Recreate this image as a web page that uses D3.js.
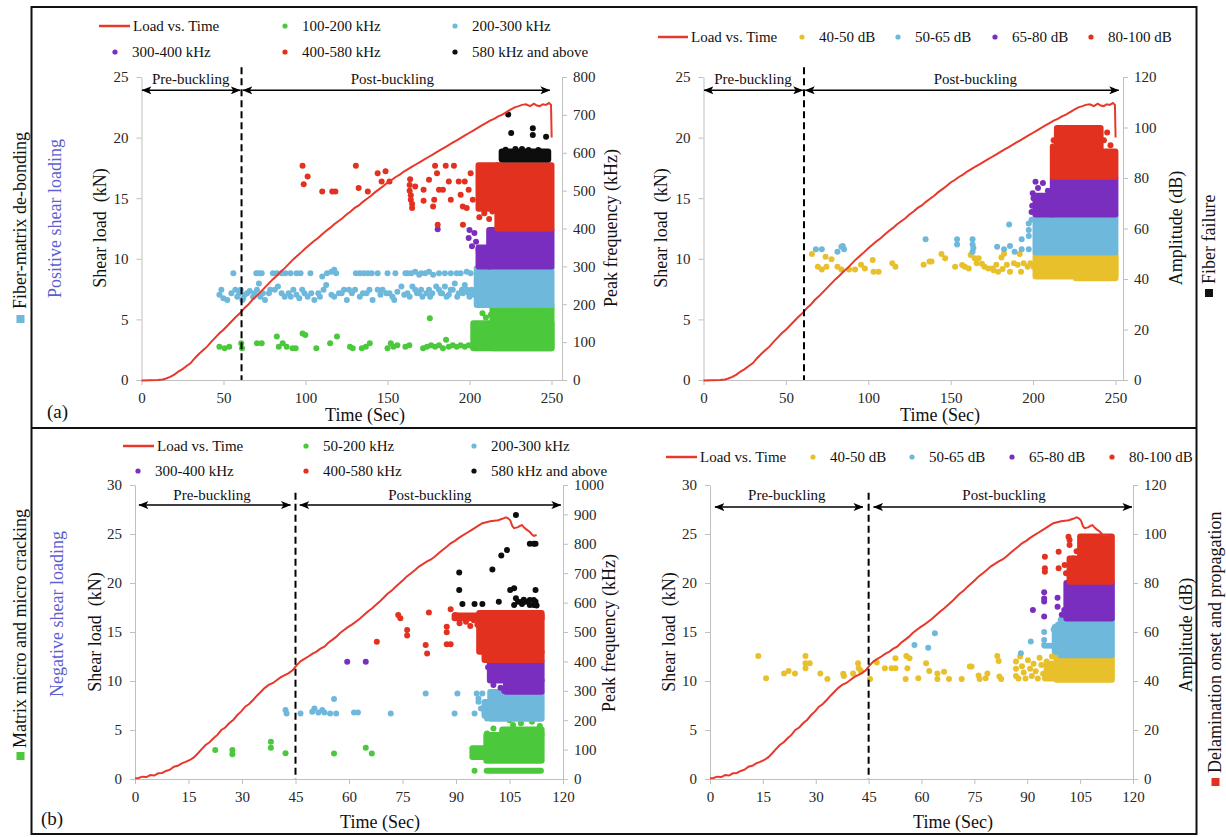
<!DOCTYPE html>
<meta charset="utf-8">
<style>
body { margin: 0; background: #fff; }
svg text { font-family: "Liberation Serif", "DejaVu Serif", "Times New Roman", Times, serif; }
</style>
<body>
<script src="https://d3js.org/d3.v7.min.js"></script>
<script>

// ---------- data ----------
// load curves (time s, shear load kN)
var loadPositive = [[0,-0.05],[5,-0.03],[10,0.0],[13,0.05],[15,0.12],[17.5,0.25],[20,0.45],[22.5,0.7],[25,0.9],[27.5,1.15],[30,1.4],[32.5,1.8],[35,2.15],[37.5,2.45],[40,2.75],[42.5,3.15],[45,3.5],[47.5,3.85],[50,4.15],[52.5,4.5],[55,4.85],[57.5,5.2],[60,5.5],[62.5,5.9],[65,6.2],[67.5,6.6],[70,6.9],[72.5,7.25],[75,7.6],[77.5,7.95],[80,8.3],[82.5,8.6],[85,8.95],[87.5,9.25],[90,9.6],[92.5,9.95],[95,10.25],[97.5,10.55],[100,10.87],[102.5,11.15],[105,11.45],[107.5,11.7],[110,12.0],[112.5,12.3],[115,12.55],[117.5,12.85],[120,13.1],[122.5,13.35],[125,13.65],[127.5,13.9],[130,14.2],[132.5,14.4],[135,14.7],[137.5,14.95],[140,15.2],[142.5,15.5],[145,15.75],[147.5,16.0],[150,16.3],[152.5,16.5],[155,16.75],[157.5,16.95],[160,17.2],[162.5,17.4],[165,17.6],[167.5,17.8],[170,18.0],[172.5,18.2],[175,18.4],[177.5,18.6],[180,18.8],[182.5,19.0],[185,19.2],[187.5,19.4],[190,19.6],[192.5,19.8],[195,20.0],[197.5,20.2],[200,20.4],[202.5,20.6],[205,20.8],[207.5,21.0],[210,21.2],[212.5,21.4],[215,21.55],[217.5,21.75],[220,21.9],[222.5,22.1],[225,22.3],[227.5,22.5],[230,22.6],[232,22.7],[234.5,22.75],[236.9,22.6],[239.3,22.8],[241,22.65],[242.9,22.6],[244.7,22.75],[246.5,22.7],[248.5,22.85],[249.7,22.7],[250.1,20.0]];

var loadNegative = [[0,0.07],[1,0.1],[2,0.24],[3.2,0.2],[4.3,0.4],[5.4,0.35],[6.5,0.58],[7.6,0.62],[8.7,0.82],[9.8,0.95],[10.9,1.26],[12,1.35],[13.1,1.6],[14.2,1.75],[15.4,1.94],[16.5,2.2],[17.6,2.6],[18.7,3.05],[19.8,3.47],[20.9,3.75],[22,4.15],[23.1,4.5],[24.2,5.0],[25.3,5.25],[26.4,5.68],[27.6,6.05],[28.7,6.53],[29.8,6.9],[30.9,7.38],[32,7.65],[33.1,8.06],[34.2,8.5],[35.3,8.9],[36.4,9.3],[37.5,9.6],[38.7,9.8],[39.8,10.1],[40.9,10.4],[42,10.6],[43.1,10.8],[44.2,11.1],[45.3,11.6],[46.4,12.0],[47.5,12.25],[48.6,12.5],[49.8,12.8],[50.9,13.0],[52,13.3],[53.1,13.5],[54.2,13.9],[55.3,14.2],[56.4,14.5],[57.5,14.9],[58.6,15.2],[59.7,15.5],[60.8,15.75],[61.9,16.05],[63,16.35],[64.1,16.7],[65.3,17.1],[66.4,17.4],[67.5,17.75],[68.6,18.1],[69.7,18.5],[70.8,18.9],[71.9,19.2],[73,19.6],[74.1,19.95],[75.2,20.3],[76.3,20.7],[77.4,21.0],[78.6,21.35],[79.7,21.7],[80.8,21.95],[81.9,22.2],[83,22.4],[84.1,22.7],[85.2,23.05],[86.3,23.4],[87.4,23.7],[88.5,24.05],[89.7,24.3],[90.8,24.6],[91.9,24.85],[93,25.1],[94.1,25.35],[95.2,25.6],[96.3,25.85],[97.4,26.1],[98.5,26.2],[99.6,26.3],[100.7,26.35],[101.8,26.4],[103,26.55],[104,26.7],[104.6,26.6],[105.2,26.4],[105.8,25.8],[106.3,25.6],[106.9,25.65],[107.4,25.7],[108,25.85],[108.5,25.9],[109,25.7],[109.6,25.5],[110.2,25.35],[110.7,25.2],[111.3,24.95],[111.8,24.8],[112.6,24.9]];

var bucklePos = 61, buckleNeg = 45;

// (a) left: peak frequency hits (time s, kHz); dense clusters [t0, t1, f0, f1]
var tlGreenPts = [[47.5,88],[50.7,84],[53.5,88],[60.8,97],[61.3,84],[70.4,97],[73.3,97],[82.5,115],[83.7,88],[86.1,97],[88.5,88],[92.1,84],[94,84],[98.2,123],[99.9,119],[106.6,84],[115,97],[119.2,115],[127.1,88],[128.8,84],[134.3,84],[136.8,88],[139.2,97],[150,84],[152,97],[153.6,88],[156,92],[160.9,88],[163.3,92],[171.7,84],[174.1,88],[175.8,163],[176.6,92],[179,88],[181.4,92],[183.8,84],[185.7,106],[187.4,88],[189.8,92],[192.2,88],[194.6,92],[197.1,88],[199.5,92],[201.9,88],[206.7,198],[207.9,176],[210,165],[213,172],[219,185],[224,178],[229,190],[236,182],[241,188],[246,180]];
var tlGreenBlocks = [[202.3,250,84,150],[214,250,84,197]];
var tlBluePts = [[56,282],[70,282],[71.6,282],[73.3,282],[80.1,282],[82.5,282],[85.4,282],[87.8,282],[90.9,282],[94.5,282],[97,282],[103,282],[110.2,273],[113.1,282],[115.8,286],[117.5,291],[118.7,282],[130.7,282],[133.1,282],[135.6,282],[138,282],[140.4,282],[144,282],[150,282],[154.8,282],[160.9,282],[162.1,282],[164.5,282],[166.9,286],[169.3,278],[170.5,282],[173,282],[175.3,286],[177.8,278],[181.4,282],[185,282],[188.6,282],[192.2,282],[194.6,282],[198.3,286],[200.7,282],
  [47.5,225],[48.7,238],[49.9,216],[52.3,211],[54.8,229],[57.2,238],[58.4,220],[59.6,229],[62,216],[64.4,229],[68,220],[70.4,238],[71.6,255],[74,229],[75.3,211],[77.7,229],[81.3,238],[83.2,247],[85.4,229],[87.3,220],[89.7,229],[92.6,238],[94.5,225],[96.2,216],[99.4,229],[101.3,220],[103.5,229],[105.4,211],[107.8,229],[111,238],[112.6,251],[115.8,225],[117.5,220],[120.4,229],[123.5,238],[125.2,211],[128.3,229],[130.2,238],[133.1,220],[137.2,229],[140.9,211],[144,238],[145.7,225],[149.3,229],[151.2,229],[154.1,211],[156,233],[158.5,247],[160.2,225],[162.1,229],[165.2,247],[166.9,238],[169.3,229],[171.3,220],[173.7,229],[175.3,238],[177.3,229],[179.7,247],[181.4,238],[183.3,229],[185,247],[187.4,225],[189.8,238],[191,255],[193.4,229],[195.4,238],[197.1,251],[199.5,229],[201.2,238],
  [60.5,238],[61.5,211],[63,225],[66,235],[69,229],[72.5,220],[78.5,238],[91,220],[98,238],[108.8,220],[122,229],[126.5,238],[135,229],[139,238],[147,238],[153,220],[163.5,220],[168,229],[170.5,238],[176,220],[182.5,229],[186,220],[188.5,238],[192.5,220],[196,229],[198.5,238],[200,220],[202.5,225]];
var tlBlueBlocks = [[204.4,250,198,295]];
var tlPurplePts = [[180.6,398],[200,396],[203,388],[205.5,344],[199.5,375],[201.5,353],[204,365]];
var tlPurpleBlocks = [[212,250,300,396],[205.5,212,300,350]];
var tlRedPts = [[98.2,566],[98.9,517],[101.3,537],[110.2,498],[116.3,498],[118.2,498],[130.7,566],[132.4,507],[138,498],[144,546],[146.4,524],[148.8,551],[151.2,524],[163.5,515],[163.5,500],[164.2,488],[164.2,476],[165,465],[165,454],[163.8,530],[166.9,511],[172,502],[172,473],[175.3,529],[179,566],[180.2,546],[181.4,502],[177.8,458],[178.5,476],[183.8,502],[187.4,524],[188.6,476],[193.4,524],[194.6,489],[195.9,458],[197.1,524],[198.3,454],[199.5,502],[200.7,546],[202,476],[190.5,566],[185.5,566],[180.6,410],[196,410],[206,430],[209,440],[212,425],[214,445]];
var tlRedBlocks = [[217,250,400,567],[205.5,217,452,567]];
var tlBlackPts = [[223.6,701],[225.4,652],[238.6,665],[238.6,647],[246.7,642],[222,608],[228,610],[232,610],[236,607],[242,607]];
var tlBlackBlocks = [[219.6,248,582,603]];

// (a) right: amplitude hits (time s, dB)
var trYellowPts = [[65.8,49.9],[69.4,44.9],[71.8,43.8],[74.1,48.8],[74.6,44.9],[77.7,47.8],[81.3,44.9],[83.7,43.8],[88.4,43.8],[92,43.8],[95.6,45.6],[97.9,44.2],[102.7,47.5],[103.2,42.9],[106.3,42.9],[114.6,46.2],[116.5,44.9],[133.6,45.6],[137.2,46.9],[138.4,46.9],[144.4,49.9],[146.7,48.2],[152.7,44.9],[157,45.5],[158.6,44.9],[161,44.2],[162.2,49.5],[164.6,48.2],[165.8,46.2],[167,48.2],[169,46],[170.5,44.9],[172.9,44.2],[175.3,44.2],[176,43.5],[177.7,45.6],[178.8,42.9],[180.8,48.5],[181.5,44],[182.4,50],[184.1,45.6],[186,42.9],[188.4,46.2],[190.7,45.6],[191.9,49.9],[192.7,42.9],[194.3,46.2],[196.7,44.9],[198.4,46.2],[200.3,44.9]];
var trYellowBlocks = [[201.5,250,41,49.5],[226,250,40.3,49.5]];
var trBluePts = [[68.2,51.8],[71.8,51.8],[81.3,50.8],[83.7,52.8],[85.3,51.8],[84.5,53.1],[134.8,55.7],[153.9,55.7],[153.9,53.7],[163.3,55.7],[163.3,53.7],[163.8,52.3],[163.3,50.8],[178.2,52.8],[185.5,61.6],[182.4,51.8],[186,53.1],[188.8,50.8],[193.1,55.7],[193.1,51.8],[197.4,62],[197.4,59.4],[197.4,51.8],[197.4,57],[199.1,63.5]];
var trBlueBlocks = [[201.5,250,50.5,65.3]];
var trPurplePts = [[199.1,66.5],[199.5,69],[200.3,72],[201.5,78.5],[199.8,74],[203,76],[206,78],[209,75]];
var trPurpleBlocks = [[201.5,212,65.5,73],[212,250,65.5,80]];
var trRedPts = [[243,95],[245,98],[247,93],[212.5,95]];
var trRedBlocks = [[212,214.5,80.5,92.5],[214.5,241,80.5,99.8],[241,250,80.5,90.5]];

// (b) left: peak frequency hits (time s, kHz)
var blGreenPts = [[22.5,98.7],[27.3,98.7],[27.3,84],[38.1,127],[38.1,106.6],[42.2,87.3],[55.8,87],[64.7,106.6],[66.4,87],[95.2,28],[98.7,155],[106,184],[108.2,190],[111.3,195],[112.9,166],[100.5,172],[103,165],[113.5,180],[105,200]];
var blGreenBlocks = [[94.6,98.5,75,105],[98.5,114,62,150],[103,114,150,168],[98.6,113.8,28,28]];
var blBluePts = [[42.2,235],[42.5,223],[46.4,223],[49.7,229],[50.3,240],[51.4,226],[52.5,235],[53.1,226],[54.7,223],[56.4,223],[55.8,272],[61.4,226],[62.5,226],[71.7,223],[81.5,291],[89.6,223],[90.4,291],[95.2,223],[95.8,291],[96.3,274],[96.3,263],[97.4,291],[98.5,229],[98.7,206],[98.2,250],[97,240]];
var blBlueBlocks = [[99.6,114,205,296],[98,99.6,215,262]];
var blPurplePts = [[59.5,399],[64.7,399],[99,380],[99.5,350],[100.5,320],[101.5,365],[102.5,310],[103.5,300]];
var blPurpleBlocks = [[99.5,114,335,400],[104,114,297,335]];
var blRedPts = [[67.8,467],[73.8,558],[74.4,547],[76.3,507],[76.3,488],[81.5,456],[81.9,427],[82.4,566],[87.4,518],[87.4,499],[87.4,458],[88.5,458],[88.5,577],[89.8,558],[90.5,547],[91.5,553],[92.5,547],[93.5,553],[94.5,547],[95.5,553],[91,530],[92.8,535],[94,520],[95,540],[96,525],[97,510],[96.8,480],[97.5,460],[98,445]];
var blRedBlocks = [[96.5,114,433,565],[98,114,405,433],[89.6,114,547,556]];
var blBlackPts = [[90.9,702],[90.9,643],[91.8,595],[95.2,595],[97.4,595],[100.2,713],[102,603],[102.7,760],[104.3,779],[105.2,643],[106.3,649],[106.8,898],[106.8,615],[106.3,592],[107.4,603],[108.5,603],[109.6,603],[110.7,609],[111.8,609],[112.3,603],[110.7,592],[111.8,592],[110.7,800],[111.8,800],[112.3,800],[112.3,643],[108.5,595],[109,610],[112.6,590]];

// (b) right: amplitude hits (time s, dB)
var brYellowPts = [[13.7,50.2],[15.9,41.1],[21,43.1],[22.3,44.1],[24.1,43.1],[27.1,50.2],[27.1,47.2],[28.3,47.2],[27.1,45.2],[31.3,43.1],[33.3,40.8],[37.8,43],[38,42],[40.6,43.1],[42,47.2],[42.2,45.2],[42.8,44.1],[45.4,40.8],[47.3,47.6],[49.6,45.2],[51.5,45.2],[52.6,49.3],[52.6,45.2],[55.5,40.8],[55.7,50.2],[56,45.2],[56.6,49.3],[59.1,41.1],[61.3,47.2],[62.2,44.1],[64.5,43.1],[64.5,40.8],[66.4,43.8],[67.8,40.8],[71.4,40.8],[73.7,45.9],[74.2,45.9],[76.2,42.2],[76.5,40.8],[78.2,41.1],[78.7,43.1],[81.5,50.2],[81.9,48.2],[82.1,41.8],[82.6,40.8],
  [86.8,48],[86.8,45],[86.8,42],[87.5,41],[88,50],[88.5,46],[89,43.5],[89.5,41],[90.2,48.5],[90.8,45],[91.3,42],[91.8,47],[92.4,44],[93,41],[93.5,49.5],[94,46.5],[94.5,43],[95,41],[95.5,48],[96,45],[96.5,42.5],[97,50],[97.5,47],[98,44],[98,41]];
var brYellowBlocks = [[98.3,114,40.5,50],[95.5,98.3,41,47]];
var brBluePts = [[58,54.7],[61.9,53.6],[63.8,59.5],[88.2,51.3],[91,56.1],[94.8,60],[94.8,56.7],[94.8,54.7],[95,54.4],[95.9,54.4],[96.7,54.4],[98.3,56.3],[98.9,57.4],[98.3,52],[97.5,61],[98.7,63]];
var brBlueBlocks = [[99.5,114,50.5,65],[97.8,99.5,52,62]];
var brPurplePts = [[91.6,69],[94.8,76.2],[94.8,73.7],[94.8,72.4],[94.8,66.3],[98.6,74],[98.6,70.3],[99.8,67],[100.5,69]];
var brPurpleBlocks = [[101.1,114,65.5,80]];
var brRedPts = [[95,90.7],[95,86],[95,84.6],[98.9,92.8],[98.9,86],[100.6,87.3],[101.7,98.9],[102,97.6],[102,95.5],[103,90],[103.5,86],[104,93],[101,84],[102.5,82]];
var brRedBlocks = [[105,114,80.5,99],[102,105,80.5,90]];

// ticks and labels
var xTicksTop = [0,50,100,150,200,250];
var xTicksBottom = [0,15,30,45,60,75,90,105,120];
var loadTicksTop = [0,5,10,15,20,25];
var loadTicksBottom = [0,5,10,15,20,25,30];
var freqTicksTop = [0,100,200,300,400,500,600,700,800];
var freqTicksBottom = [0,100,200,300,400,500,600,700,800,900,1000];
var ampTicks = [0,20,40,60,80,100,120];
var freqLabelsTop = ["100-200 kHz","200-300 kHz","300-400 kHz","400-580 kHz","580 kHz and above"];
var freqLabelsBottom = ["50-200 kHz","200-300 kHz","300-400 kHz","400-580 kHz","580 kHz and above"];
var ampLabels = ["40-50 dB","50-65 dB","65-80 dB","80-100 dB"];

// ---------- styles ----------
var serif = '"Liberation Serif", "DejaVu Serif", "Times New Roman", Times, serif';
var cGreen = "#4cc83c", cBlue = "#6eb8dc", cPurple = "#7a2ebf", cRed = "#e2321f",
    cBlack = "#0d0d0d", cYellow = "#e8c02c", cLine = "#e8382b", axisGrey = "#bfbfbf";

var svg = d3.select("body").append("svg")
    .attr("width", 1226)
    .attr("height", 837);

svg.append("defs").append("marker")
    .attr("id", "arr")
    .attr("viewBox", "0 0 10 8")
    .attr("refX", 9.5).attr("refY", 4)
    .attr("markerWidth", 10).attr("markerHeight", 8)
    .attr("markerUnits", "userSpaceOnUse")
    .attr("orient", "auto-start-reverse")
  .append("path")
    .attr("d", "M0,0 L10,4 L0,8 L2.5,4 Z")
    .attr("fill", "#000");

// frame
svg.append("rect")
    .attr("x", 31.5).attr("y", 7).attr("width", 1165).attr("height", 827)
    .attr("fill", "none").attr("stroke", "#111").attr("stroke-width", 2);
svg.append("line")
    .attr("x1", 31.5).attr("x2", 1196.5).attr("y1", 428).attr("y2", 428)
    .attr("stroke", "#111").attr("stroke-width", 2);

var panels = [
  { load: loadPositive, buckle: bucklePos, tMax: 256.4, xTicks: xTicksTop, loadMax: 25, loadTicks: loadTicksTop,
    rMax: 800, rTicks: freqTicksTop, left: 141.5, right: 562, top: 77, bottom: 380,
    series: [[tlGreenPts, tlGreenBlocks, cGreen], [tlBluePts, tlBlueBlocks, cBlue], [tlPurplePts, tlPurpleBlocks, cPurple],
             [tlRedPts, tlRedBlocks, cRed], [tlBlackPts, tlBlackBlocks, cBlack]],
    legLine: [99, 130, 26], legText: 133,
    legLabels: freqLabelsTop, legColors: [cGreen, cBlue, cPurple, cRed, cBlack],
    legPos: [[285,26],[455,26],[115,52],[285,52],[455,52]],
    arrowY: 23.9, labelY: 24.4, dashTop: 25.8, pre: [0.3, 60.2, 30], post: [61.8, 249, 153],
    yTitle: [100, 228], rTitle: [611, 228], rTitleText: "Peak frequency (kHz)", xTitle: [365, 421], tag: ["(a)", 47, 418] },
  { load: loadPositive, buckle: bucklePos, tMax: 254.6, xTicks: xTicksTop, loadMax: 25, loadTicks: loadTicksTop,
    rMax: 120, rTicks: ampTicks, left: 703.5, right: 1123, top: 77, bottom: 380,
    series: [[trYellowPts, trYellowBlocks, cYellow], [trBluePts, trBlueBlocks, cBlue], [trPurplePts, trPurpleBlocks, cPurple],
             [trRedPts, trRedBlocks, cRed]],
    legLine: [658, 688, 37], legText: 691,
    legLabels: ampLabels, legColors: [cYellow, cBlue, cPurple, cRed],
    legPos: [[802,37],[898,37],[995,37],[1091,37]],
    arrowY: 23.9, labelY: 24.4, dashTop: 25.8, pre: [0.3, 60.2, 30], post: [61.8, 252, 165],
    yTitle: [661, 228], rTitle: [1176, 228], rTitleText: "Amplitude (dB)", xTitle: [940, 421], tag: null },
  { load: loadNegative, buckle: buckleNeg, tMax: 120, xTicks: xTicksBottom, loadMax: 30, loadTicks: loadTicksBottom,
    rMax: 1000, rTicks: freqTicksBottom, left: 135, right: 563, top: 485, bottom: 779,
    series: [[blGreenPts, blGreenBlocks, cGreen], [blBluePts, blBlueBlocks, cBlue], [blPurplePts, blPurpleBlocks, cPurple],
             [blRedPts, blRedBlocks, cRed], [blBlackPts, [], cBlack]],
    legLine: [123, 154, 446], legText: 157,
    legLabels: freqLabelsBottom, legColors: [cGreen, cBlue, cPurple, cRed, cBlack],
    legPos: [[306,446],[474,446],[138,471],[306,471],[474,471]],
    arrowY: 27.95, labelY: 28.5, dashTop: 29.2, pre: [1.1, 43.6, 21.6], post: [46.2, 119.4, 82.7],
    yTitle: [95, 632], rTitle: [609, 633], rTitleText: "Peak frequency (kHz)", xTitle: [380, 828], tag: ["(b)", 41, 825] },
  { load: loadNegative, buckle: buckleNeg, tMax: 120, xTicks: xTicksBottom, loadMax: 30, loadTicks: loadTicksBottom,
    rMax: 120, rTicks: ampTicks, left: 710, right: 1133, top: 485, bottom: 779,
    series: [[brYellowPts, brYellowBlocks, cYellow], [brBluePts, brBlueBlocks, cBlue], [brPurplePts, brPurpleBlocks, cPurple],
             [brRedPts, brRedBlocks, cRed]],
    legLine: [666, 697, 457], legText: 700,
    legLabels: ampLabels, legColors: [cYellow, cBlue, cPurple, cRed],
    legPos: [[813,457],[912,457],[1012,457],[1112,457]],
    arrowY: 27.75, labelY: 28.5, dashTop: 29.2, pre: [1.4, 43.4, 21.8], post: [46.4, 119.7, 83.4],
    yTitle: [669, 632], rTitle: [1186, 635], rTitleText: "Amplitude (dB)", xTitle: [953, 828], tag: null }
];

function styleAxis(a) {
  a.attr("font-family", serif).attr("font-size", 15);
  a.select(".domain").attr("stroke", axisGrey);
  a.selectAll(".tick line").attr("stroke", axisGrey);
  a.selectAll(".tick text").attr("fill", "#262626");
}

var fmt = d3.format("d");

panels.forEach(function(p) {
  var g = svg.append("g");
  var x = d3.scaleLinear().domain([0, p.tMax]).range([p.left, p.right]);
  var y = d3.scaleLinear().domain([0, p.loadMax]).range([p.bottom, p.top]);
  var y2 = d3.scaleLinear().domain([0, p.rMax]).range([p.bottom, p.top]);

  // axes
  g.append("g").attr("transform", "translate(0," + p.bottom + ")")
    .call(d3.axisBottom(x).tickValues(p.xTicks).tickFormat(fmt).tickSize(5).tickSizeOuter(0).tickPadding(7))
    .call(styleAxis);
  g.append("g").attr("transform", "translate(" + p.left + ",0)")
    .call(d3.axisLeft(y).tickValues(p.loadTicks).tickFormat(fmt).tickSize(5).tickSizeOuter(0).tickPadding(8))
    .call(styleAxis);
  g.append("g").attr("transform", "translate(" + p.right + ",0)")
    .call(d3.axisRight(y2).tickValues(p.rTicks).tickFormat(fmt).tickSize(5).tickSizeOuter(0).tickPadding(6))
    .call(styleAxis);

  // acoustic emission hits
  p.series.forEach(function(s) {
    var col = s[2];
    g.append("g").selectAll("rect").data(s[1]).join("rect")
      .attr("x", function(d) { return x(d[0]) - 3; })
      .attr("y", function(d) { return y2(d[3]) - 3; })
      .attr("width", function(d) { return x(d[1]) - x(d[0]) + 6; })
      .attr("height", function(d) { return y2(d[2]) - y2(d[3]) + 6; })
      .attr("rx", 3)
      .attr("fill", col);
    g.append("g").selectAll("circle").data(s[0]).join("circle")
      .attr("cx", function(d) { return x(d[0]); })
      .attr("cy", function(d) { return y2(d[1]); })
      .attr("r", 3)
      .attr("fill", col);
  });

  // load curve
  g.append("path").datum(p.load)
    .attr("d", d3.line().x(function(d) { return x(d[0]); }).y(function(d) { return y(d[1]); }))
    .attr("fill", "none").attr("stroke", cLine).attr("stroke-width", 2);

  // buckling marker
  g.append("line")
    .attr("x1", x(p.buckle)).attr("x2", x(p.buckle))
    .attr("y1", y(p.dashTop)).attr("y2", y(0))
    .attr("stroke", "#000").attr("stroke-width", 2).attr("stroke-dasharray", "7,4");
  [p.pre, p.post].forEach(function(a, i) {
    g.append("line")
      .attr("x1", x(a[0])).attr("x2", x(a[1]))
      .attr("y1", y(p.arrowY)).attr("y2", y(p.arrowY))
      .attr("stroke", "#000").attr("stroke-width", 1.5)
      .attr("marker-start", "url(#arr)").attr("marker-end", "url(#arr)");
    g.append("text")
      .attr("x", x(a[2])).attr("y", y(p.labelY))
      .attr("text-anchor", "middle").attr("font-size", 15).attr("fill", "#111")
      .text(i === 0 ? "Pre-buckling" : "Post-buckling");
  });

  // legend
  g.append("line")
    .attr("x1", p.legLine[0]).attr("x2", p.legLine[1])
    .attr("y1", p.legLine[2]).attr("y2", p.legLine[2])
    .attr("stroke", cLine).attr("stroke-width", 2.5);
  g.append("text")
    .attr("x", p.legText).attr("y", p.legLine[2]).attr("dy", "0.33em")
    .attr("font-size", 15).attr("fill", "#111").text("Load vs. Time");
  p.legLabels.forEach(function(lab, i) {
    var pos = p.legPos[i];
    g.append("circle").attr("cx", pos[0]).attr("cy", pos[1]).attr("r", 2.6).attr("fill", p.legColors[i]);
    g.append("text")
      .attr("x", pos[0] + 17).attr("y", pos[1]).attr("dy", "0.33em")
      .attr("font-size", 15).attr("fill", "#111").text(lab);
  });

  // axis titles
  g.append("text")
    .attr("transform", "translate(" + (p.yTitle[0] + 6) + "," + p.yTitle[1] + ") rotate(-90)")
    .attr("text-anchor", "middle").attr("font-size", 18).attr("fill", "#111")
    .style("white-space", "pre").text("Shear load  (kN)");
  g.append("text")
    .attr("transform", "translate(" + (p.rTitle[0] + 6) + "," + p.rTitle[1] + ") rotate(-90)")
    .attr("text-anchor", "middle").attr("font-size", 18).attr("fill", "#111")
    .text(p.rTitleText);
  g.append("text")
    .attr("x", p.xTitle[0]).attr("y", p.xTitle[1])
    .attr("text-anchor", "middle").attr("font-size", 18).attr("fill", "#111")
    .text("Time (Sec)");
  if (p.tag) {
    g.append("text").attr("x", p.tag[1]).attr("y", p.tag[2])
      .attr("font-size", 19).attr("fill", "#111").text(p.tag[0]);
  }
});

// side annotations: [baseline x, bottom y, text, colour, square x, square y, square colour]
var sideNotes = [
  [26, 309, "Fiber-matrix de-bonding", "#111", 16.5, 315, cBlue],
  [61, 298, "Positive shear loading", "#5b5fd0", null],
  [1215, 284, "Fiber failure", "#111", 1205, 289, "#111"],
  [26, 748, "Matrix micro and micro cracking", "#111", 16.5, 752, cGreen],
  [63, 697, "Negative shear loading", "#5b5fd0", null],
  [1221, 773, "Delamination onset and propagation", "#111", 1211.5, 778, cRed]
];
sideNotes.forEach(function(n) {
  svg.append("text")
    .attr("transform", "translate(" + n[0] + "," + n[1] + ") rotate(-90)")
    .attr("font-size", 18).attr("fill", n[3]).text(n[2]);
  if (n[4] !== null) {
    svg.append("rect").attr("x", n[4]).attr("y", n[5]).attr("width", 8).attr("height", 8).attr("fill", n[6]);
  }
});

</script>
</body>
